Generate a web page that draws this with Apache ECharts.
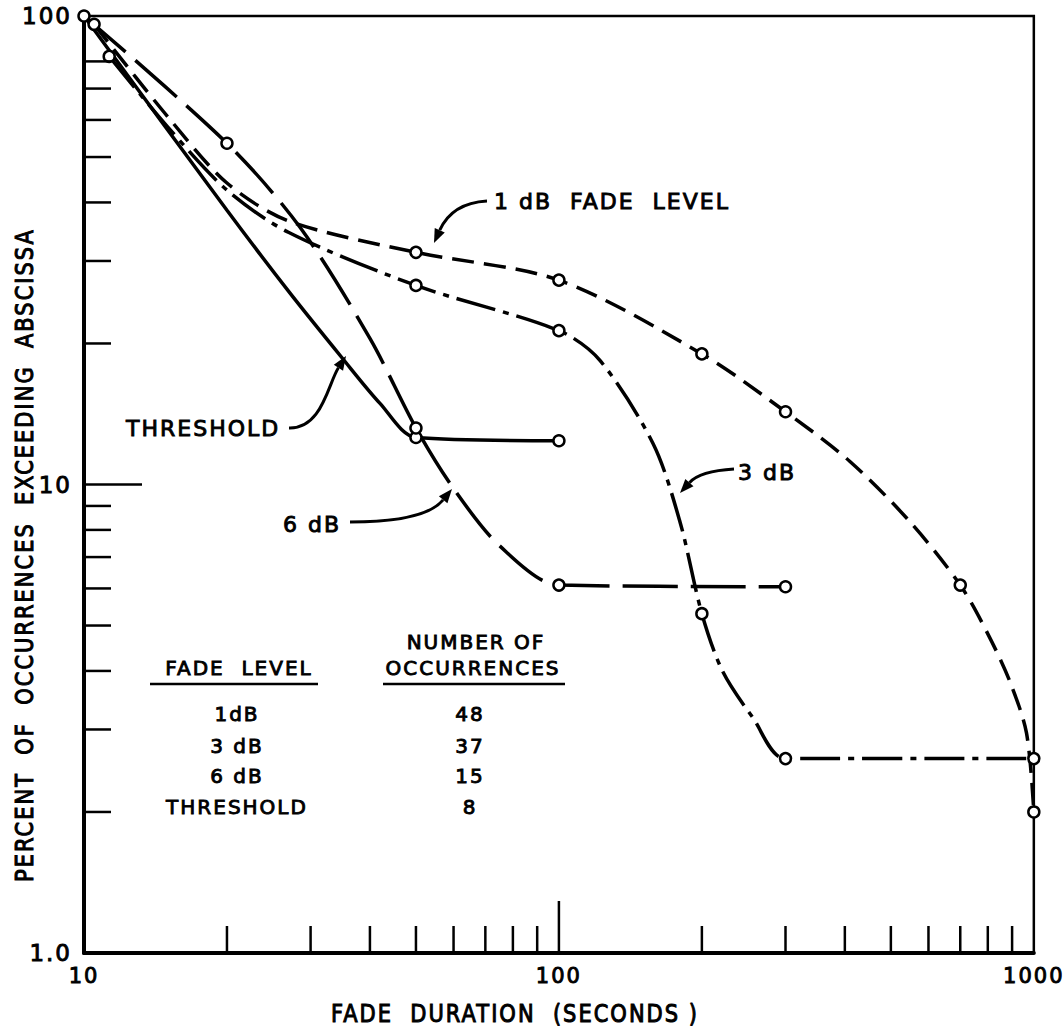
<!DOCTYPE html>
<html>
<head>
<meta charset="utf-8">
<script src="https://cdn.jsdelivr.net/npm/echarts@6/dist/echarts.min.js"></script>
<style>
  html, body { margin: 0; padding: 0; background: #fff; }
  #chart { width: 1064px; height: 1029px; }
  #chart text { letter-spacing: 2px; }
</style>
</head>
<body>
<div id="chart"></div>
<script>
// Fade duration (s) vs. percent of fades lasting longer than that duration.
// Each curve: x values, y values, and which points carry an open-circle marker.
const thresholdX = [10, 20, 27, 35, 42, 50, 100];
const thresholdY = [100, 38.5, 25.8, 18.6, 14.9, 12.6, 12.4];
const thresholdMarks = [1, 0, 0, 0, 0, 1, 1];

const db1X = [10.5, 15, 20, 27, 50, 100, 200, 300, 410, 550, 700, 800, 890, 965, 1000];
const db1Y = [96, 61, 44, 36.5, 31.3, 27.3, 19, 14.3, 11.2, 8.3, 6.1, 4.8, 3.8, 2.95, 2.0];
const db1Marks = [1, 0, 0, 0, 1, 1, 1, 1, 0, 0, 1, 0, 0, 0, 1];

const db3X = [11.3, 15, 20, 27, 50, 100, 122, 158, 180, 200, 221, 256, 300, 1000];
const db3Y = [82, 58, 42.5, 34.5, 26.6, 21.3, 18.4, 12.2, 8.3, 5.3, 4.0, 3.18, 2.6, 2.6];
const db3Marks = [1, 0, 0, 0, 1, 1, 0, 0, 0, 1, 0, 0, 1, 1];

const db6X = [10, 20, 28.5, 40, 50, 60, 75, 100, 300];
const db6Y = [100, 53.5, 35.4, 20.5, 13.2, 9.8, 7.4, 6.1, 6.05];
const db6Marks = [0, 1, 0, 0, 1, 0, 0, 1, 1];

// Axis extents and tick values
const xMin = 10, xMax = 1000;
const yMin = 1, yMax = 100;
const xMinorTicks = [20, 30, 40, 50, 60, 70, 80, 90, 200, 300, 400, 500, 600, 700, 800, 900];
const xMajorTicks = [100];
const yMinorTicks = [2, 3, 4, 5, 6, 7, 8, 9, 20, 30, 40, 50, 60, 70, 80];
const yMajorTicks = [10];

// Summary table
const tableLevels = ['1dB', '3 dB', '6 dB', 'THRESHOLD'];
const tableCounts = ['48', '37', '15', '8'];

const FONT = 'DejaVu Sans, Liberation Sans, sans-serif';
const INK = '#000';
const PEN = 0.9;   // extra outline so the lettering reads as a heavy pen stroke

function curveData(xs, ys, marks) {
  return xs.map((x, i) => marks[i]
    ? { value: [x, ys[i]] }
    : { value: [x, ys[i]], symbol: 'none' });
}

function curve(name, xs, ys, marks, dash) {
  return {
    name: name,
    type: 'line',
    data: curveData(xs, ys, marks),
    smooth: 0.3,
    showAllSymbol: true,
    symbol: 'circle',
    symbolSize: 11,
    itemStyle: { color: '#fff', borderColor: INK, borderWidth: 2.5 },
    lineStyle: { color: INK, width: 3.5, type: dash, cap: 'butt' },
    emphasis: { disabled: true },
    silent: true,
    z: 3
  };
}

function ticks(values, axis, len) {
  return {
    type: 'custom',
    silent: true,
    clip: false,
    z: 4,
    data: values.map(v => axis === 'x' ? [v, yMin] : [xMin, v]),
    renderItem: function (params, api) {
      const p = api.coord([api.value(0), api.value(1)]);
      const shape = axis === 'x'
        ? { x1: p[0], y1: p[1], x2: p[0], y2: p[1] - len }
        : { x1: p[0], y1: p[1], x2: p[0] + len, y2: p[1] };
      return { type: 'line', shape: shape, style: { stroke: INK, lineWidth: 2.5 } };
    }
  };
}

function label(text, x, y, size, align, opts) {
  return Object.assign({
    type: 'text', x: x, y: y, silent: true, z: 10,
    style: { text: text, fill: INK, stroke: INK, lineWidth: PEN,
             fontSize: size, fontFamily: FONT,
             align: align || 'left', verticalAlign: 'middle' }
  }, opts || {});
}

function rule(x1, x2, y) {
  return { type: 'line', silent: true, z: 10,
           shape: { x1: x1, y1: y, x2: x2, y2: y },
           style: { stroke: INK, lineWidth: 2.5 } };
}

// Curved pointer from (x1,y1) to the tip (x2,y2); c1 and optional c2 are control points
function arrow(x1, y1, c1, x2, y2, c2) {
  const last = c2 || c1;
  const a = Math.atan2(y2 - last[1], x2 - last[0]);
  const L = 14, W = 5.5;
  const bx = x2 - L * Math.cos(a), by = y2 - L * Math.sin(a);
  const nx = -Math.sin(a), ny = Math.cos(a);
  const shape = { x1: x1, y1: y1, cpx1: c1[0], cpy1: c1[1], x2: bx, y2: by };
  if (c2) { shape.cpx2 = c2[0]; shape.cpy2 = c2[1]; }
  return [
    { type: 'bezierCurve', silent: true, z: 10, shape: shape,
      style: { stroke: INK, lineWidth: 3, fill: null } },
    { type: 'polygon', silent: true, z: 10,
      shape: { points: [[x2, y2], [bx + nx * W, by + ny * W], [bx - nx * W, by - ny * W]] },
      style: { fill: INK } }
  ];
}

const chart = echarts.init(document.getElementById('chart'), null, { renderer: 'svg' });

const graphics = [
  // axis titles
  label('FADE  DURATION  (SECONDS )', 515, 1013, 21, 'center', { scaleY: 1.2 }),
  label('PERCENT  OF  OCCURRENCES  EXCEEDING  ABSCISSA', 24, 555, 21, 'center',
        { rotation: Math.PI / 2, scaleY: 1.15 }),
  // curve labels
  label('1 dB  FADE  LEVEL', 494, 201, 22),
  label('3 dB', 738, 472, 22),
  label('THRESHOLD', 126, 428, 22),
  label('6 dB', 283, 524, 22),
  // table header
  label('FADE  LEVEL', 239, 668, 20, 'center'),
  rule(150, 318, 684),
  label('NUMBER OF', 476, 642, 20, 'center'),
  label('OCCURRENCES', 473, 668, 20, 'center'),
  rule(383, 565, 684)
]
  .concat(arrow(487, 201, [452, 203], 434, 243))
  .concat(arrow(734, 469, [700, 471], 680, 493))
  .concat(arrow(289, 428, [322, 429], 346, 356, [328, 384]))
  .concat(arrow(350, 522, [425, 522], 452, 489));

tableLevels.forEach((t, i) => {
  const y = [714, 746, 776, 807][i];
  graphics.push(label(t, 237, y, 20, 'center'));
  graphics.push(label(tableCounts[i], 470, y, 20, 'center'));
});

const axisFont = { color: INK, fontFamily: FONT, textBorderColor: INK, textBorderWidth: PEN };

chart.setOption({
  animation: false,
  backgroundColor: '#fff',
  grid: { left: 84, right: 30, top: 16, bottom: 76, show: true,
          borderColor: INK, borderWidth: 2.5, backgroundColor: 'transparent' },
  xAxis: {
    type: 'log', logBase: 10, min: xMin, max: xMax,
    axisLine: { lineStyle: { color: INK, width: 4 } },
    axisTick: { show: false },
    splitLine: { show: false },
    axisLabel: Object.assign({ fontSize: 21, margin: 12,
                 formatter: v => String(Math.round(v)) }, axisFont)
  },
  yAxis: {
    type: 'log', logBase: 10, min: yMin, max: yMax,
    axisLine: { lineStyle: { color: INK, width: 4 } },
    axisTick: { show: false },
    splitLine: { show: false },
    axisLabel: Object.assign({ fontSize: 23, margin: 12,
                 formatter: v => (v === 1 ? '1.0' : String(Math.round(v))) }, axisFont)
  },
  series: [
    ticks(xMinorTicks, 'x', 27),
    ticks(xMajorTicks, 'x', 52),
    ticks(yMinorTicks, 'y', 27),
    ticks(yMajorTicks, 'y', 58),
    curve('THRESHOLD', thresholdX, thresholdY, thresholdMarks, 'solid'),
    curve('6 dB', db6X, db6Y, db6Marks, [55, 13]),
    curve('3 dB', db3X, db3Y, db3Marks, [40, 8, 6, 8]),
    curve('1 dB', db1X, db1Y, db1Marks, [22, 10])
  ],
  graphic: graphics
});
</script>
</body>
</html>
